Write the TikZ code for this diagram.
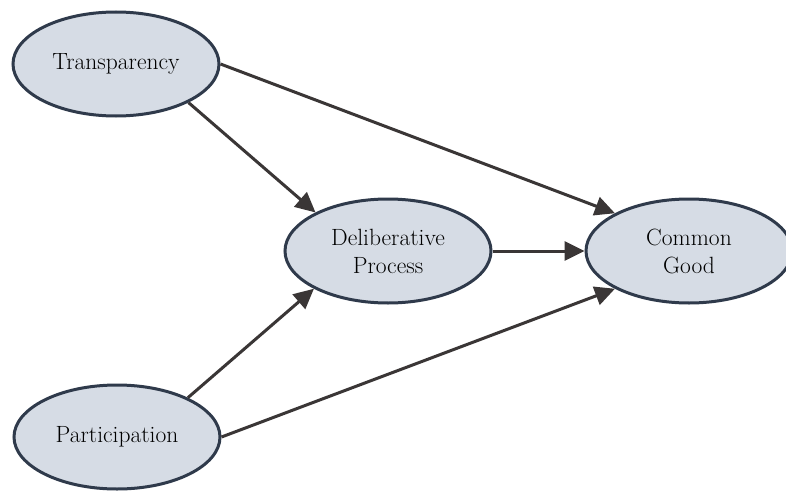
\documentclass[tikz,border=0pt]{standalone}
\usepackage{fontspec}
\setmainfont{Latin Modern Roman}
\usetikzlibrary{shapes.geometric,arrows.meta}
\definecolor{nodefill}{HTML}{D6DCE5}
\definecolor{nodeborder}{HTML}{2F3A4B}
\definecolor{arrowcol}{HTML}{3A3636}
\begin{document}
\begin{tikzpicture}[x=1pt,y=-1pt,
  concept/.style={ellipse, draw=nodeborder, fill=nodefill, line width=3pt,
    minimum width=206pt, minimum height=104pt, inner sep=0pt,
    align=center, font=\fontsize{23.5}{28}\selectfont},
  link/.style={draw=arrowcol, line width=3pt,
    -{Triangle[length=20pt,width=19pt]}}]
\clip (0,0) rectangle (786,492);
\fill[white] (0,0) rectangle (786,492);
\node[concept] (T) at (116,64) {Transparency};
\node[concept] (D) at (388,251) {Deliberative\\Process};
\node[concept] (C) at (689,251) {Common\\Good};
\node[concept] (P) at (117,437) {Participation};
\draw[link] (T.-28) -- (D.152);
\draw[link] (T.0) -- (C.153);
\draw[link] (D.0) -- (C.180);
\draw[link] (P.29) -- (D.207);
\draw[link] (P.0) -- (C.207);
\end{tikzpicture}
\end{document}
